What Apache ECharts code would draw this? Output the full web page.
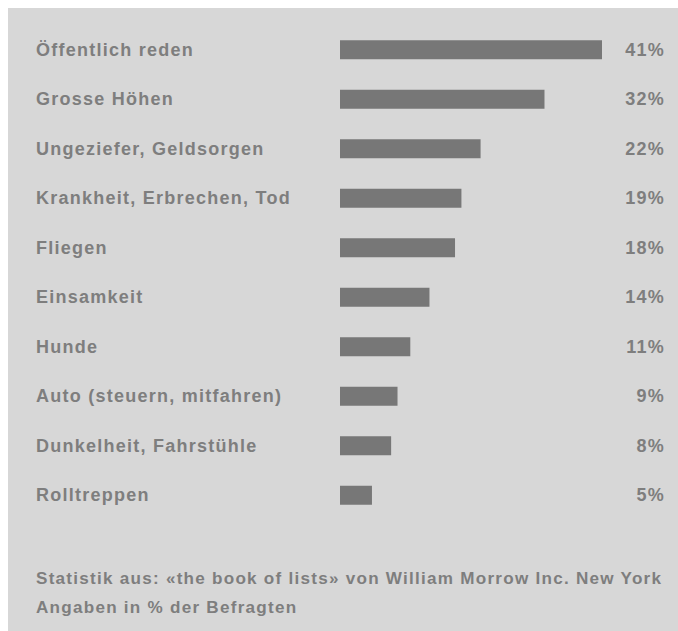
<!DOCTYPE html>
<html><head><meta charset="utf-8">
<script src="https://cdn.jsdelivr.net/npm/echarts@6/dist/echarts.min.js"></script>
<style>html,body{margin:0;padding:0;background:#fff}#c{width:678px;height:631px}#c text{letter-spacing:1.25px}</style>
</head><body><div id="c"></div>
<script>
const categories = ["Öffentlich reden","Grosse Höhen","Ungeziefer, Geldsorgen","Krankheit, Erbrechen, Tod","Fliegen","Einsamkeit","Hunde","Auto (steuern, mitfahren)","Dunkelheit, Fahrstühle","Rolltreppen"];
const values = [41,32,22,19,18,14,11,9,8,5];
const footer1 = "Statistik aus: «the book of lists» von William Morrow Inc. New York";
const footer2 = "Angaben in % der Befragten";

const textColor = '#7e7e7e';
const font = '"Liberation Sans", Arial, sans-serif';
const fs = 18;
const chart = echarts.init(document.getElementById('c'), null, {renderer:'svg'});
chart.setOption({
  backgroundColor:'#ffffff',
  animation:false,
  graphic:[{type:'rect', z:-10, shape:{x:8,y:8,width:670,height:623}, style:{fill:'#d7d7d7'}}],
  title:[
    {text:footer1, left:31, top:565, textStyle:{color:textColor, fontSize:17.1, fontWeight:'bold', fontFamily:font}},
    {text:footer2, left:31, top:594, textStyle:{color:textColor, fontSize:17.1, fontWeight:'bold', fontFamily:font}}
  ],
  grid:{left:340, top:25, width:262, height:495, containLabel:false},
  xAxis:{type:'value', min:0, max:41, show:false},
  yAxis:[
    {type:'category', data:categories, inverse:true, position:'left',
     axisLine:{show:false}, axisTick:{show:false}, splitLine:{show:false},
     axisLabel:{align:'left', margin:304, color:textColor, fontSize:fs, fontWeight:'bold', fontFamily:font}},
    {type:'category', data:values.map(v=>v+'%'), inverse:true, position:'right',
     axisLine:{show:false}, axisTick:{show:false}, splitLine:{show:false},
     axisLabel:{align:'right', margin:63, color:textColor, fontSize:fs, fontWeight:'bold', fontFamily:font}}
  ],
  series:[{type:'bar', data:values, yAxisIndex:0, barWidth:19, itemStyle:{color:'#777777'}, silent:true}]
});
</script></body></html>
